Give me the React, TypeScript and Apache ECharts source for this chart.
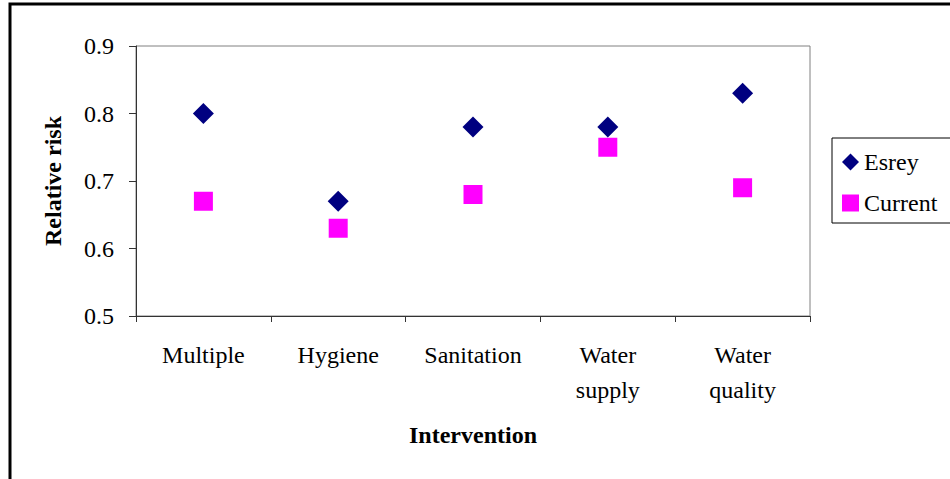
import React, { useEffect, useRef } from "react";
import * as echarts from "echarts";

const categories = ["Multiple", "Hygiene", "Sanitation", "Water\nsupply", "Water\nquality"];
const esreyValues = [0.8, 0.67, 0.78, 0.78, 0.83];
const currentValues = [0.67, 0.63, 0.68, 0.75, 0.69];
const yTicks = { min: 0.5, max: 0.9, interval: 0.1 };

const FONT = "'Liberation Serif', 'Times New Roman', serif";

export default function App() {
  const ref = useRef<HTMLDivElement>(null);
  useEffect(() => {
    if (!ref.current) return;
    const chart = echarts.init(ref.current, undefined, { renderer: "svg" });
    chart.setOption({
      animation: false,
      backgroundColor: "#ffffff",
      textStyle: { fontFamily: FONT },
      graphic: [
        {
          type: "rect",
          shape: { x: 10, y: 4, width: 960, height: 490 },
          style: { fill: "none", stroke: "#000000", lineWidth: 3 },
          z: 100,
        },
      ],
      grid: {
        left: 136,
        top: 46,
        width: 674,
        height: 270,
        show: true,
        borderColor: "#808080",
        borderWidth: 1,
        backgroundColor: "transparent",
      },
      legend: {
        orient: "vertical",
        left: 832,
        top: 138,
        padding: [11, 30, 7, 10],
        itemGap: 15,
        itemWidth: 17,
        itemHeight: 17,
        borderColor: "#000000",
        borderWidth: 1,
        textStyle: { fontFamily: FONT, fontSize: 24, color: "#000", lineHeight: 26 },
        data: ["Esrey", "Current"],
      },
      xAxis: {
        type: "category",
        data: categories,
        boundaryGap: true,
        name: "Intervention",
        nameLocation: "middle",
        nameGap: 107,
        nameTextStyle: { fontFamily: FONT, fontSize: 24, fontWeight: "bold", color: "#000" },
        axisLine: { show: true, lineStyle: { color: "#333333", width: 1 } },
        axisTick: { show: true, alignWithLabel: false, length: 6, lineStyle: { color: "#333333" } },
        axisLabel: {
          fontFamily: FONT,
          fontSize: 24,
          color: "#000",
          lineHeight: 35,
          margin: 21,
          interval: 0,
        },
        splitLine: { show: false },
      },
      yAxis: {
        type: "value",
        min: yTicks.min,
        max: yTicks.max,
        interval: yTicks.interval,
        name: "Relative risk",
        nameLocation: "middle",
        nameGap: 71,
        nameRotate: 90,
        nameTextStyle: { fontFamily: FONT, fontSize: 24, fontWeight: "bold", color: "#000" },
        axisLine: { show: true, lineStyle: { color: "#333333", width: 1 } },
        axisTick: { show: true, length: 7, inside: false, lineStyle: { color: "#333333" } },
        axisLabel: {
          fontFamily: FONT,
          fontSize: 24,
          color: "#000",
          margin: 22,
          formatter: (v: number) => v.toFixed(1),
        },
        splitLine: { show: false },
      },
      series: [
        {
          name: "Esrey",
          type: "scatter",
          symbol: "diamond",
          symbolSize: 21,
          itemStyle: { color: "#000080", opacity: 1 },
          data: esreyValues,
          z: 3,
        },
        {
          name: "Current",
          type: "scatter",
          symbol: "rect",
          symbolSize: 19,
          itemStyle: { color: "#ff00ff", opacity: 1 },
          data: currentValues,
          z: 2,
        },
      ],
    });
    return () => chart.dispose();
  }, []);
  return (
    <div
      ref={ref}
      style={{ position: "absolute", left: 0, top: 0, width: 950, height: 479 }}
    />
  );
}
